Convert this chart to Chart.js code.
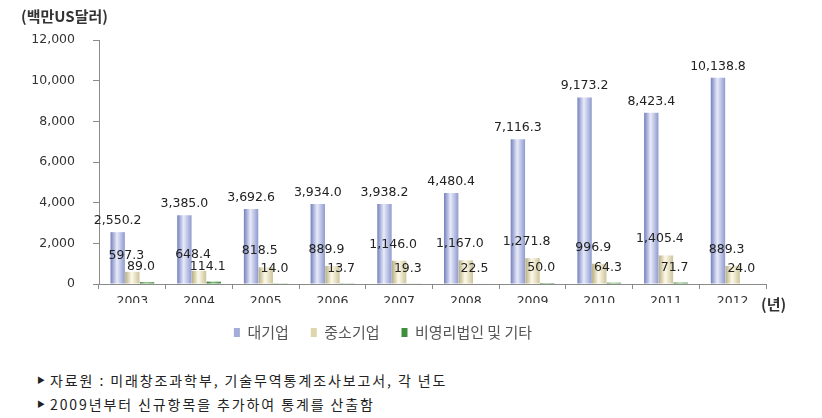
<!DOCTYPE html>
<html>
<head>
<meta charset="utf-8">
<script src="https://cdn.jsdelivr.net/npm/chart.js@4.4.1/dist/chart.umd.min.js"></script>
<style>
  body { margin: 0; background: #fff; }
  #wrap { position: relative; width: 822px; height: 418px; font-family: "Noto Sans CJK KR", sans-serif; color: #222; }
  #unit { position: absolute; left: 21px; top: 5px; font-size: 15px; font-weight: bold; color: #333; }
  #yearUnit { position: absolute; left: 761px; top: 293px; font-size: 15px; font-weight: bold; color: #333; }
  .note { position: absolute; left: 50px; font-size: 14px; letter-spacing: 1.9px; color: #222; }
  .note span { position: absolute; left: -13px; top: 4px; font-size: 8px; letter-spacing: 0; }
  canvas { position: absolute; left: 0; top: 0; }
</style>
</head>
<body>
<div id="wrap">
  <canvas id="chart" width="822" height="350"></canvas>
  <div id="unit">(백만US달러)</div>
  <div id="yearUnit">(년)</div>
  <div class="note" style="top:370px"><span>▶</span>자료원 : 미래창조과학부, 기술무역통계조사보고서, 각 년도</div>
  <div class="note" style="top:394px"><span>▶</span>2009년부터 신규항목을 추가하여 통계를 산출함</div>
</div>
<script>
"use strict";

const years = ["2003", "2004", "2005", "2006", "2007", "2008", "2009", "2010", "2011", "2012"];
const largeFirms = [2550.2, 3385.0, 3692.6, 3934.0, 3938.2, 4480.4, 7116.3, 9173.2, 8423.4, 10138.8];
const smeFirms = [597.3, 648.4, 818.5, 889.9, 1146.0, 1167.0, 1271.8, 996.9, 1405.4, 889.3];
const nonProfit = [89.0, 114.1, 14.0, 13.7, 19.3, 22.5, 50.0, 64.3, 71.7, 24.0];
const seriesNames = ["대기업", "중소기업", "비영리법인 및 기타"];

// left edge, middle, right edge colours for the cylinder look
const shades = [
    ["#7480bd", "#e8ebfa", "#8f9ace"],
    ["#b8ae80", "#fdfaea", "#cdc49a"],
    ["#2b682b", "#80c272", "#3a843a"],
];
const legendColors = ["#a4acd8", "#ddd6ae", "#3f8f3f"];

// give each bar its own horizontal gradient once positions are known
const cylinderFill = {
    id: "cylinderFill",
    beforeDatasetsDraw(chart) {
        const ctx = chart.ctx;
        chart.data.datasets.forEach((ds, i) => {
            chart.getDatasetMeta(i).data.forEach((bar) => {
                const g = ctx.createLinearGradient(bar.x - bar.width / 2, 0, bar.x + bar.width / 2, 0);
                g.addColorStop(0, shades[i][0]);
                g.addColorStop(0.45, shades[i][1]);
                g.addColorStop(1, shades[i][2]);
                bar.options = Object.assign({}, bar.options, { backgroundColor: g });
            });
        });
    }
};

const fmt = (v) => v.toLocaleString("en-US", { minimumFractionDigits: 1, maximumFractionDigits: 1 });

// value labels above bars
const labelOffsets = [{ dx: 0, dy: 5 }, { dx: -6, dy: 10 }, { dx: -6, dy: 9 }];
const valueLabels = {
    id: "valueLabels",
    afterDatasetsDraw(chart) {
        const ctx = chart.ctx;
        ctx.save();
        ctx.font = "12.5px 'DejaVu Sans'";
        ctx.fillStyle = "#222";
        ctx.textAlign = "center";
        ctx.textBaseline = "bottom";
        chart.data.datasets.forEach((ds, i) => {
            chart.getDatasetMeta(i).data.forEach((bar, j) => {
                const o = labelOffsets[i];
                ctx.fillText(fmt(ds.data[j]), bar.x + o.dx, bar.y - o.dy);
            });
        });
        ctx.restore();
    }
};

const makeSet = (label, data, i) => ({
    label: label,
    data: data,
    backgroundColor: legendColors[i],
    borderWidth: 0,
    categoryPercentage: 0.66,
    barPercentage: 0.98,
});

new Chart(document.getElementById("chart"), {
    type: "bar",
    data: {
        labels: years,
        datasets: [
            makeSet(seriesNames[0], largeFirms, 0),
            makeSet(seriesNames[1], smeFirms, 1),
            makeSet(seriesNames[2], nonProfit, 2),
        ],
    },
    options: {
        responsive: false,
        animation: false,
        layout: { padding: { top: 40, right: 56, left: 0, bottom: 0 } },
        scales: {
            x: {
                grid: { drawOnChartArea: false, drawTicks: true, tickLength: 5, color: "#8a8a8a" },
                border: { color: "#8a8a8a" },
                ticks: { font: { size: 12.5, family: "'DejaVu Sans'" }, color: "#333", padding: 5 },
                afterFit: (s) => { s.height = 19; },
            },
            y: {
                min: 0,
                max: 12000,
                grid: { drawOnChartArea: false, drawTicks: true, tickLength: 6, color: "#8a8a8a" },
                border: { color: "#8a8a8a" },
                ticks: {
                    stepSize: 2000,
                    padding: 18,
                    font: { size: 12.5, family: "'DejaVu Sans'" },
                    color: "#333",
                    callback: (v) => v.toLocaleString("en-US"),
                },
                afterFit: (s) => { s.width = 99; },
            },
        },
        plugins: {
            legend: {
                position: "bottom",
                labels: {
                    boxWidth: 6,
                    boxHeight: 9,
                    padding: 22,
                    color: "#555",
                    font: { size: 15, family: "'Noto Sans CJK KR'" },
                    generateLabels: (chart) => chart.data.datasets.map((ds, i) => ({
                        text: ds.label,
                        fillStyle: legendColors[i],
                        strokeStyle: legendColors[i],
                        lineWidth: 0,
                        datasetIndex: i,
                        fontColor: "#555",
                    })),
                },
            },
            tooltip: { enabled: false },
        },
    },
    plugins: [cylinderFill, valueLabels],
});
</script>
</body>
</html>
